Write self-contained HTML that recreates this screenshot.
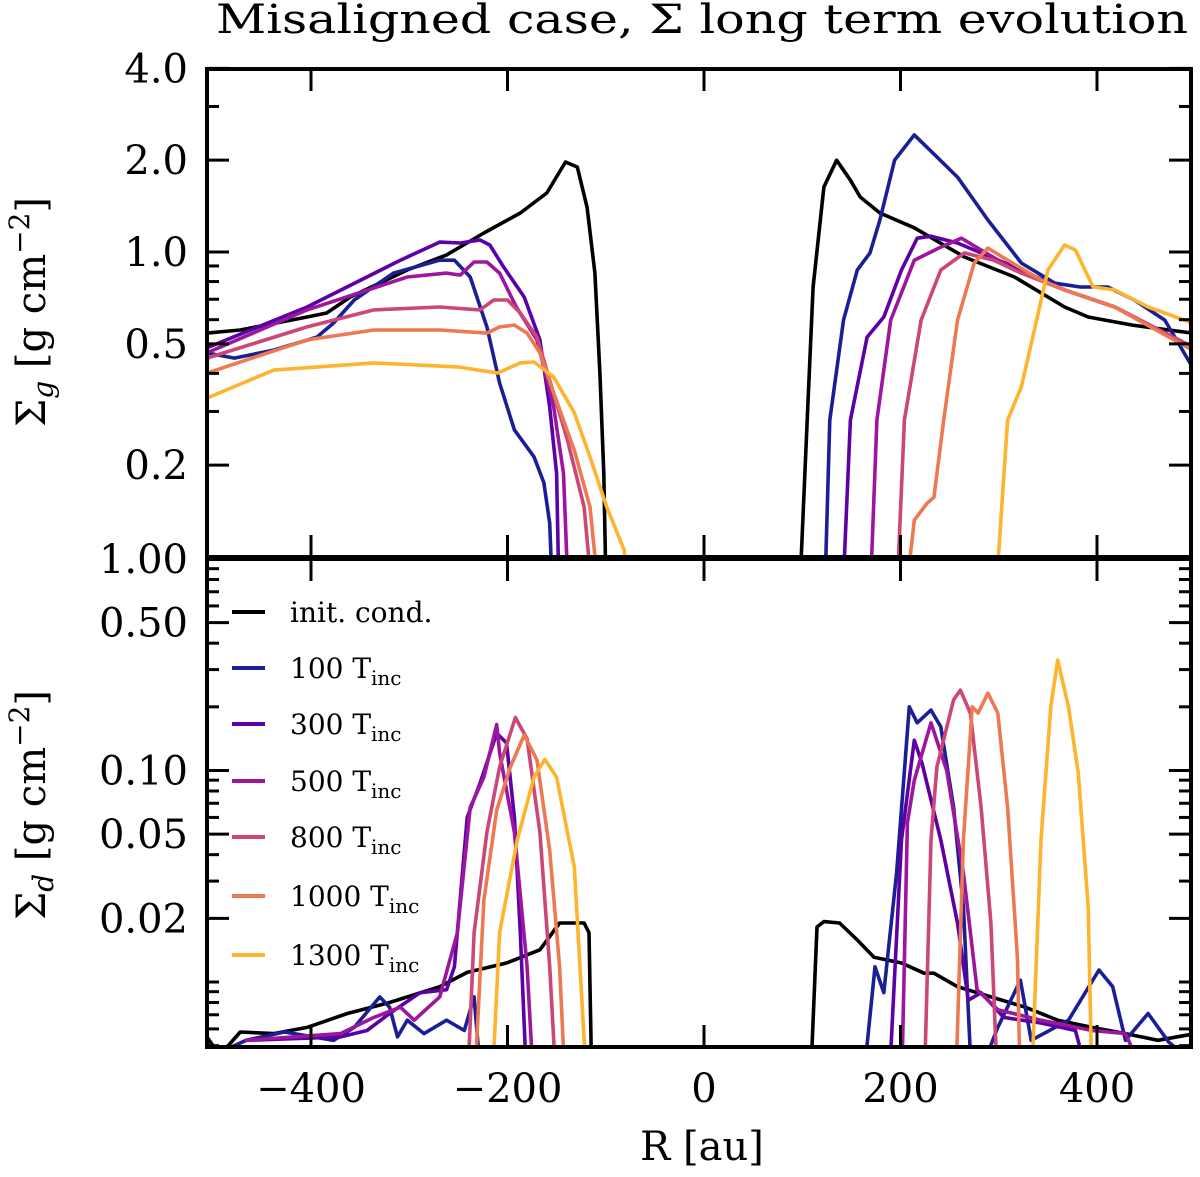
<!DOCTYPE html>
<html><head><meta charset="utf-8"><style>
html,body{margin:0;padding:0;background:#fff;}
svg{display:block;font-family:"DejaVu Serif","Liberation Serif",serif;}
</style></head><body>
<svg id="chart" width="1200" height="1177" viewBox="0 0 1200 1177" xmlns="http://www.w3.org/2000/svg">
<defs>
<clipPath id="clipTop"><rect x="207" y="69" width="984" height="488"/></clipPath>
<clipPath id="clipBot"><rect x="207" y="559" width="984" height="488"/></clipPath>
</defs>
<text x="702" y="33" font-size="40" text-anchor="middle" textLength="972" lengthAdjust="spacingAndGlyphs">Misaligned case, Σ long term evolution</text>
<g id="topLines" clip-path="url(#clipTop)"></g>
<g id="botLines" clip-path="url(#clipBot)"></g>
<g id="axes"></g>
<text transform="translate(45,312) rotate(-90)" font-size="40" text-anchor="middle">Σ<tspan font-style="italic" font-size="28" dy="8">g</tspan><tspan dy="-8"> [g cm</tspan><tspan font-size="28" dy="-16">−2</tspan><tspan dy="16">]</tspan></text>
<text transform="translate(45,805) rotate(-90)" font-size="40" text-anchor="middle">Σ<tspan font-style="italic" font-size="28" dy="8">d</tspan><tspan dy="-8"> [g cm</tspan><tspan font-size="28" dy="-16">−2</tspan><tspan dy="16">]</tspan></text>
<text x="702" y="1160" font-size="40" text-anchor="middle">R [au]</text>
<g id="legend"></g>
</svg>
<script>
const seriesLabels = ["init. cond.", "100", "300", "500", "800", "1000", "1300"];
const seriesColors = ["#000000", "#1a1f96", "#5c01a6", "#9c179e", "#cc4778", "#ed7953", "#fdb42f"];
const xTicks = [-400, -200, 0, 200, 400];
const topTicks = [4.0, 2.0, 1.0, 0.5, 0.2];
const topTickLabels = ["4.0", "2.0", "1.0", "0.5", "0.2"];
const botTicks = [1.0, 0.5, 0.1, 0.05, 0.02];
const botTickLabels = ["1.00", "0.50", "0.10", "0.05", "0.02"];

// Gas surface density (top panel): radii [au] and values
const gasR = [
 [-506,-472,-404,-384,-360,-302,-262,-224,-187,-160,-141,-129,-119,-111,-106,-102,-99, 96,105,111,122,135,149,159,179,214,265,316,367,391,436,497],
 [-506,-478,-438,-394,-377,-356,-316,-269,-254,-238,-221,-208,-193,-173,-163,-157,-153, 122,128,142,156,169,179,194,214,237,258,289,323,357,383,411,438,469,497],
 [-506,-404,-309,-269,-248,-228,-218,-204,-183,-167,-157,-150,-147, 140,149,166,183,201,217,231,258,316,367,418,497],
 [-506,-404,-302,-262,-248,-234,-221,-208,-191,-170,-153,-143,-137, 168,176,190,214,241,262,282,316,367,418,497],
 [-506,-404,-336,-269,-228,-214,-200,-187,-170,-157,-139,-122,-111, 195,204,221,241,265,295,323,367,418,497],
 [-506,-404,-336,-269,-221,-208,-193,-180,-167,-153,-132,-116,-104, 202,214,227,234,244,258,275,289,309,343,367,418,497],
 [-506,-438,-336,-251,-210,-187,-173,-153,-132,-116,-99,-81,-80, 295,309,323,337,350,367,378,396,418,452,497]
];
const gasV = [
 [0.542,0.555,0.612,0.631,0.712,0.873,0.978,1.154,1.342,1.561,1.973,1.90,1.40,0.853,0.401,0.188,0.06, 0.06,0.281,0.768,1.633,2.0,1.72,1.515,1.342,1.2,0.963,0.828,0.66,0.612,0.576,0.542],
 [0.467,0.449,0.477,0.526,0.585,0.696,0.853,0.94,0.94,0.828,0.568,0.372,0.261,0.213,0.175,0.129,0.06, 0.06,0.281,0.598,0.873,0.993,1.273,2.0,2.42,2.05,1.76,1.273,0.92,0.79,0.768,0.768,0.696,0.598,0.42],
 [0.485,0.66,0.94,1.078,1.07,1.095,1.054,0.893,0.712,0.515,0.31,0.188,0.06, 0.06,0.281,0.526,0.612,0.873,1.11,1.127,1.07,0.893,0.751,0.66,0.488],
 [0.467,0.646,0.828,0.853,0.84,0.927,0.927,0.853,0.66,0.515,0.31,0.188,0.06, 0.06,0.281,0.598,0.94,1.038,1.11,1.015,0.873,0.751,0.66,0.488],
 [0.449,0.568,0.646,0.66,0.646,0.696,0.696,0.631,0.526,0.38,0.242,0.146,0.06, 0.06,0.281,0.598,0.873,0.993,0.94,0.853,0.751,0.66,0.488],
 [0.401,0.515,0.555,0.555,0.542,0.568,0.576,0.542,0.467,0.345,0.224,0.146,0.06, 0.06,0.132,0.150,0.157,0.281,0.598,0.92,1.03,0.94,0.81,0.751,0.66,0.477],
 [0.332,0.41,0.433,0.42,0.401,0.433,0.436,0.389,0.297,0.213,0.146,0.105,0.06, 0.06,0.281,0.361,0.568,0.873,1.054,1.015,0.768,0.751,0.66,0.585]
];
// Dust surface density (bottom panel)
const dustR = [
 [-506,-493,-472,-438,-404,-363,-320,-269,-241,-201,-167,-147,-122,-117,-114, 108,115,122,138,156,173,201,224,234,258,292,327,360,395,429,462,500],
 [-500,-466,-427,-377,-356,-330,-320,-312,-302,-285,-262,-244,-234,-226, 161,174,183,196,209,217,231,241,254,264,273,299,322,333,371,402,416,429,452,473,490],
 [-466,-370,-343,-320,-289,-262,-254,-241,-228,-211,-201,-193,-187,-180, 188,201,214,222,241,258,269,282,305,343,378,395],
 [-466,-370,-336,-309,-295,-269,-251,-238,-224,-211,-208,-193,-180,-173, 201,207,214,231,247,264,278,299,343,395,429,456],
 [-241,-234,-221,-208,-192,-180,-167,-157,-150, 224,231,237,254,261,271,282,292,299],
 [-234,-224,-211,-197,-183,-170,-157,-147,-141, 256,264,273,279,289,299,309,319,322],
 [-216,-208,-190,-173,-162,-150,-132,-119, 333,343,353,360,371,381,391,395]
];
const dustV = [
 [0.0055,0.0045,0.0058,0.0057,0.0061,0.0071,0.0080,0.0095,0.0111,0.0123,0.0142,0.019,0.019,0.0171,0.003, 0.003,0.0182,0.0193,0.019,0.0158,0.0131,0.0123,0.011,0.011,0.0095,0.0085,0.0076,0.0066,0.0061,0.0057,0.0053,0.0057],
 [0.0045,0.0053,0.0058,0.0053,0.0061,0.0085,0.0076,0.0055,0.0066,0.0057,0.0066,0.0059,0.0085,0.003, 0.003,0.0118,0.0089,0.0328,0.200,0.168,0.193,0.161,0.067,0.0226,0.003,0.0061,0.0102,0.0053,0.0066,0.0114,0.0095,0.0053,0.0071,0.0052,0.0045],
 [0.0053,0.0055,0.0059,0.0071,0.0089,0.0092,0.0118,0.060,0.087,0.150,0.135,0.060,0.0171,0.003, 0.003,0.047,0.139,0.108,0.047,0.019,0.0082,0.0089,0.0068,0.0064,0.0059,0.003],
 [0.0053,0.0057,0.0068,0.0076,0.0066,0.0085,0.0171,0.067,0.093,0.165,0.121,0.051,0.0118,0.003, 0.003,0.0565,0.090,0.168,0.100,0.0328,0.0092,0.0074,0.0066,0.0059,0.0057,0.003],
 [0.003,0.0171,0.051,0.104,0.178,0.141,0.051,0.0118,0.003, 0.003,0.047,0.104,0.216,0.240,0.187,0.067,0.019,0.003],
 [0.003,0.0244,0.065,0.104,0.147,0.112,0.042,0.0118,0.003, 0.003,0.047,0.200,0.187,0.232,0.187,0.067,0.0131,0.003],
 [0.003,0.0171,0.047,0.093,0.113,0.093,0.035,0.003, 0.003,0.047,0.200,0.333,0.200,0.097,0.0226,0.003]
];

const NS = "http://www.w3.org/2000/svg";
const X0 = 207, X1 = 1191;
function xScale(r){ return 704 + r * 0.9825; }
function yTop(v){ return 252 - 305 * Math.log10(v); }
function yBot(v){ return 559 - 211.5 * Math.log10(v); }
function mk(tag, attrs, parent){
  const e = document.createElementNS(NS, tag);
  for (const k in attrs) e.setAttribute(k, attrs[k]);
  parent.appendChild(e);
  return e;
}
function drawSeries(group, R, V, yf, prefix){
  for (let s = 0; s < R.length; s++){
    // split where radius jumps across the gap (negative to positive side)
    let segs = [[]];
    for (let i = 0; i < R[s].length; i++){
      if (i > 0 && R[s][i-1] < 0 && R[s][i] > 0) segs.push([]);
      segs[segs.length-1].push(xScale(R[s][i]).toFixed(1) + "," + yf(V[s][i]).toFixed(1));
    }
    segs.forEach((pts, k) => {
      const p = mk("polyline", {points: pts.join(" "), fill: "none", stroke: seriesColors[s], "stroke-width": 3.6, "stroke-linejoin": "round", "stroke-linecap": "round"}, group);
      
      
    });
  }
}
drawSeries(document.getElementById("topLines"), gasR, gasV, yTop, "gas");
drawSeries(document.getElementById("botLines"), dustR, dustV, yBot, "dust");

const ax = document.getElementById("axes");
function line(x1,y1,x2,y2,w,name){
  const l = mk("line", {x1:x1,y1:y1,x2:x2,y2:y2,stroke:"#000","stroke-width":w}, ax);
  
  
  return l;
}
function text(x,y,str,anchor,size,name){
  const t = mk("text", {x:x,y:y,"text-anchor":anchor,"font-size":size}, ax);
  t.textContent = str;
  
  
  return t;
}
// panels
const panels = [
  {top:69, bot:557, yf:yTop, lo:0.1, hi:4, majors:topTicks, labels:topTickLabels, name:"gas"},
  {top:559, bot:1047, yf:yBot, lo:0.005, hi:1, majors:botTicks, labels:botTickLabels, name:"dust"}
];
panels.forEach(p => {
  // minor y ticks
  for (let e = -3; e <= 1; e++){
    for (let m = 1; m <= 9; m++){
      const v = m * Math.pow(10, e);
      if (v < p.lo*0.999 || v > p.hi*1.001) continue;
      if (p.majors.some(t => Math.abs(t - v) < 1e-9)) continue;
      const y = p.yf(v);
      line(X0, y, X0+12, y, 3, p.name + '-y-minor-tick');
      line(X1, y, X1-12, y, 3, p.name + '-y-minor-tick-right');
    }
  }
  p.majors.forEach((v, i) => {
    const y = p.yf(v);
    line(X0, y, X0+22, y, 3, p.name + '-y-major-tick');
    line(X1, y, X1-22, y, 3, p.name + '-y-major-tick-right');
    text(188, y + 14, p.labels[i], "end", 40, p.name + '-y-tick-label');
  });
  xTicks.forEach(r => {
    const x = xScale(r);
    line(x, p.bot, x, p.bot-22, 3, p.name + '-x-tick');
    line(x, p.top, x, p.top+22, 3, p.name + '-x-tick-top');
  });
  const fr = mk("rect", {x:X0, y:p.top, width:X1-X0, height:p.bot-p.top, fill:"none", stroke:"#000", "stroke-width":4}, ax);
  
  
});
xTicks.forEach(r => {
  text(xScale(r), 1102, (r < 0 ? "−" : "") + Math.abs(r), "middle", 40, 'x-tick-label');
});

// legend
const lg = document.getElementById("legend");
const legendY = [612, 668, 724, 781, 837, 896, 955];
seriesLabels.forEach((lab, i) => {
  const g = mk("g", {}, lg);
  
  
  mk("line", {x1:232, y1:legendY[i], x2:265, y2:legendY[i], stroke:seriesColors[i], "stroke-width":4}, g);
  const t = mk("text", {x:290, y:legendY[i]+10, "font-size":28}, g);
  if (i === 0) { t.textContent = lab; }
  else {
    t.textContent = lab + " T";
    const sub = mk("tspan", {"font-size":20, dy:7}, t);
    sub.textContent = "inc";
  }
});
</script>
</body></html>
